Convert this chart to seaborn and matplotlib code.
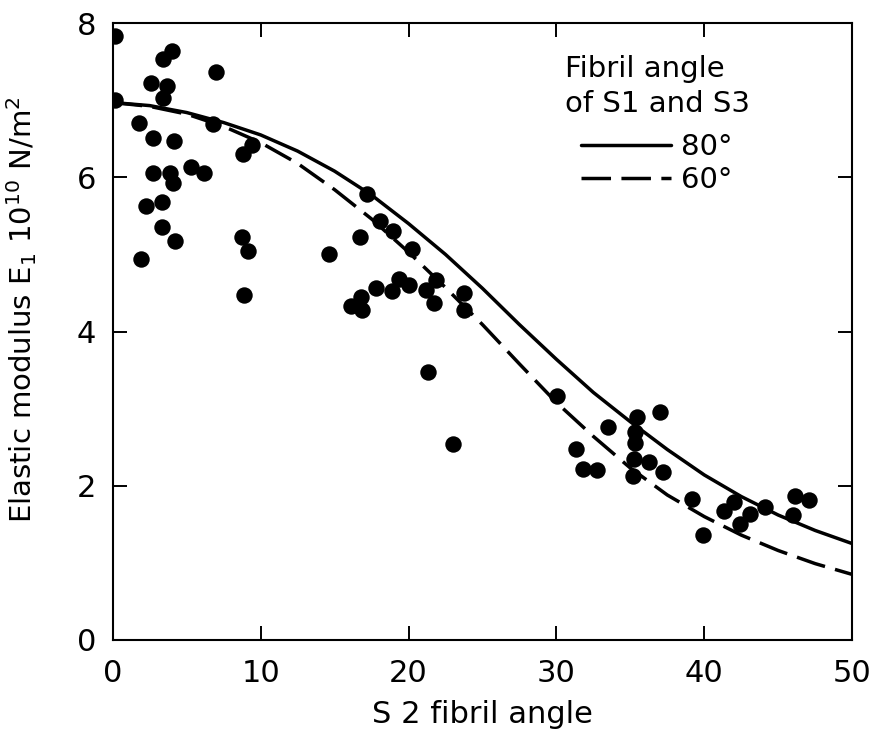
import matplotlib
matplotlib.use("Agg")
import matplotlib.pyplot as plt
import seaborn as sns
import pandas as pd

# measured points: S2 fibril angle vs elastic modulus (10^10 N/m^2)
s2_angle = [0.14, 4.04, 3.41, 6.96, 2.57, 3.68, 3.41, 0.14, 6.80, 1.76, 9.39, 8.83,
            2.73, 4.15, 2.69, 3.86, 4.09, 5.26, 6.19, 2.24, 3.36, 3.30, 4.24, 8.72,
            9.17, 1.90, 8.88,
            17.19, 18.09, 18.95, 16.69, 14.63, 20.24, 19.38, 20.05, 21.88, 21.21,
            17.80, 18.88, 23.78, 16.80, 16.10, 16.85, 21.75, 23.73, 21.30, 23.01,
            30.06, 35.43, 36.99, 33.49, 35.34, 35.30, 31.30, 35.25, 36.29, 31.80,
            32.72, 37.24, 35.21, 39.18, 39.90, 42.03, 41.31, 43.07, 42.41, 44.13,
            46.14, 47.09, 45.98]
modulus = [7.83, 7.64, 7.53, 7.37, 7.22, 7.19, 7.03, 7.00, 6.69, 6.70, 6.42, 6.30,
           6.51, 6.47, 6.05, 6.06, 5.93, 6.14, 6.05, 5.63, 5.68, 5.35, 5.17, 5.22,
           5.05, 4.94, 4.48,
           5.78, 5.43, 5.31, 5.23, 5.01, 5.07, 4.68, 4.60, 4.67, 4.54,
           4.56, 4.52, 4.50, 4.45, 4.33, 4.28, 4.37, 4.28, 3.47, 2.54,
           3.16, 2.89, 2.96, 2.76, 2.70, 2.55, 2.48, 2.35, 2.31, 2.22,
           2.21, 2.18, 2.12, 1.83, 1.36, 1.79, 1.67, 1.63, 1.51, 1.72,
           1.87, 1.81, 1.62]

# theoretical curves
curve_angle = [0, 2.5, 5, 7.5, 10, 12.5, 15, 17.5, 20, 22.5, 25, 27.5, 30,
               32.5, 35, 37.5, 40, 42.5, 45, 47.5, 50]
e_80 = [6.97, 6.93, 6.84, 6.71, 6.55, 6.34, 6.08, 5.77, 5.40, 5.00, 4.56, 4.09,
        3.64, 3.21, 2.83, 2.47, 2.14, 1.86, 1.62, 1.42, 1.25]
e_60 = [6.97, 6.92, 6.82, 6.66, 6.45, 6.18, 5.84, 5.46, 5.03, 4.57, 4.09, 3.58,
        3.08, 2.64, 2.23, 1.88, 1.60, 1.36, 1.16, 0.99, 0.85]

curves = pd.DataFrame({
    "angle": curve_angle * 2,
    "E": e_80 + e_60,
    "S1S3": ["80°"] * len(curve_angle) + ["60°"] * len(curve_angle),
})

sns.set_style("ticks")
plt.rcParams["font.family"] = ["DejaVu Sans"]
plt.rcParams["mathtext.fontset"] = "dejavusans"
plt.rcParams["text.color"] = "black"
plt.rcParams["axes.labelcolor"] = "black"

fig = plt.figure(figsize=(8.74, 7.45), dpi=100)
ax = fig.add_axes([0.129, 0.141, 0.846, 0.828])

sns.lineplot(data=curves, x="angle", y="E", style="S1S3",
             dashes={"80°": "", "60°": (8.5, 3)}, color="black",
             linewidth=2.5, ax=ax)
sns.scatterplot(x=s2_angle, y=modulus, color="black", s=140, linewidth=0, ax=ax)

ax.set_xlim(0, 50)
ax.set_ylim(0, 8)
ax.set_xticks([0, 10, 20, 30, 40, 50])
ax.set_yticks([0, 2, 4, 6, 8])
ax.tick_params(direction="in", length=10, width=1.4, top=True, right=True,
               labelsize=22, color="black", labelcolor="black")
ax.tick_params(axis="x", pad=14)
ax.tick_params(axis="y", pad=12)
for sp in ax.spines.values():
    sp.set_linewidth(1.5)
    sp.set_color("black")

ax.set_xlabel("S 2 fibril angle", fontsize=22, labelpad=8)
ax.set_ylabel(r"Elastic modulus E$_1$ 10$^{10}$ N/m$^2$", fontsize=21)
ax.yaxis.set_label_coords(-0.1, 0.535)

ax.text(0.612, 0.948, "Fibril angle\nof S1 and S3", transform=ax.transAxes,
        ha="left", va="top", fontsize=21, linespacing=1.3)
handles, labels = ax.get_legend_handles_labels()
ax.legend(handles, labels, loc="upper left", bbox_to_anchor=(0.633, 0.822),
          frameon=False, fontsize=21, handlelength=3.1, handletextpad=0.35,
          labelspacing=0.18, borderpad=0, borderaxespad=0)

fig.savefig("out.png", dpi=100, facecolor="white")
